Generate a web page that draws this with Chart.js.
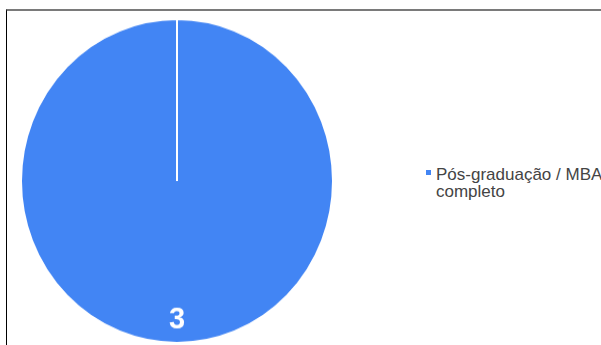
<!DOCTYPE html>
<html>
<head>
<meta charset="utf-8">
<script src="https://cdn.jsdelivr.net/npm/chart.js@4"></script>
<style>
  html, body { margin: 0; padding: 0; background: #fff; overflow: hidden; }
  body { width: 601px; height: 345px; position: relative; }
  .frame {
    position: absolute; left: 6px; top: 9px; width: 700px; height: 400px;
    border-top: 2px solid #7a7a7a; border-left: 1px solid #000;
  }
  .pie-wrap {
    position: absolute; left: 20px; top: 24px; width: 314px; height: 314px;
    transform: scaleY(1.038); transform-origin: 50% 50%;
  }
  .legend {
    position: absolute; left: 426px; top: 166px; width: 220px;
    font: 17px "Liberation Sans", Arial, sans-serif; line-height: 17px; color: #444;
  }
  .legend .box {
    position: absolute; left: 0; top: 4px; width: 5px; height: 5px;
  }
  .legend .txt { margin-left: 10px; white-space: nowrap; }
</style>
</head>
<body>
<div class="frame"></div>
<div class="pie-wrap"><canvas id="pie"></canvas></div>
<div class="legend" id="legend"></div>
<script>
// data
const categories = ['Pós-graduação / MBA completo'];
const legendLines = [['Pós-graduação / MBA', 'completo']];
const values = [3];
const colors = ['#4285f4'];

// legend as html so the label can wrap on two lines
const legend = document.getElementById('legend');
categories.forEach((c, i) => {
  const box = document.createElement('div');
  box.className = 'box';
  box.style.background = colors[i];
  const txt = document.createElement('div');
  txt.className = 'txt';
  txt.innerHTML = legendLines[i].join('<br>');
  legend.appendChild(box);
  legend.appendChild(txt);
});

const sliceLabels = {
  id: 'sliceLabels',
  afterDatasetsDraw(chart) {
    const { ctx } = chart;
    const meta = chart.getDatasetMeta(0);
    ctx.save();
    ctx.fillStyle = '#fff';
    ctx.font = 'bold 29px "Liberation Sans", Arial, sans-serif';
    ctx.textAlign = 'center';
    ctx.textBaseline = 'middle';
    meta.data.forEach((arc, i) => {
      const { x, y, startAngle, endAngle, outerRadius } = arc.getProps(['x', 'y', 'startAngle', 'endAngle', 'outerRadius'], true);
      const mid = (startAngle + endAngle) / 2;
      const r = outerRadius * 0.86;
      ctx.fillText(String(values[i]), x + Math.cos(mid) * r, y + Math.sin(mid) * r);
    });
    ctx.restore();
  },
};

new Chart(document.getElementById('pie'), {
  type: 'pie',
  data: {
    labels: categories,
    datasets: [{
      data: values,
      backgroundColor: colors,
      borderColor: '#fff',
      borderWidth: 2,
      hoverBorderWidth: 2,
    }],
  },
  options: {
    responsive: true,
    maintainAspectRatio: false,
    animation: false,
    layout: { padding: 0 },
    plugins: {
      legend: { display: false },
      tooltip: { enabled: false },
    },
  },
  plugins: [sliceLabels],
});
</script>
</body>
</html>
